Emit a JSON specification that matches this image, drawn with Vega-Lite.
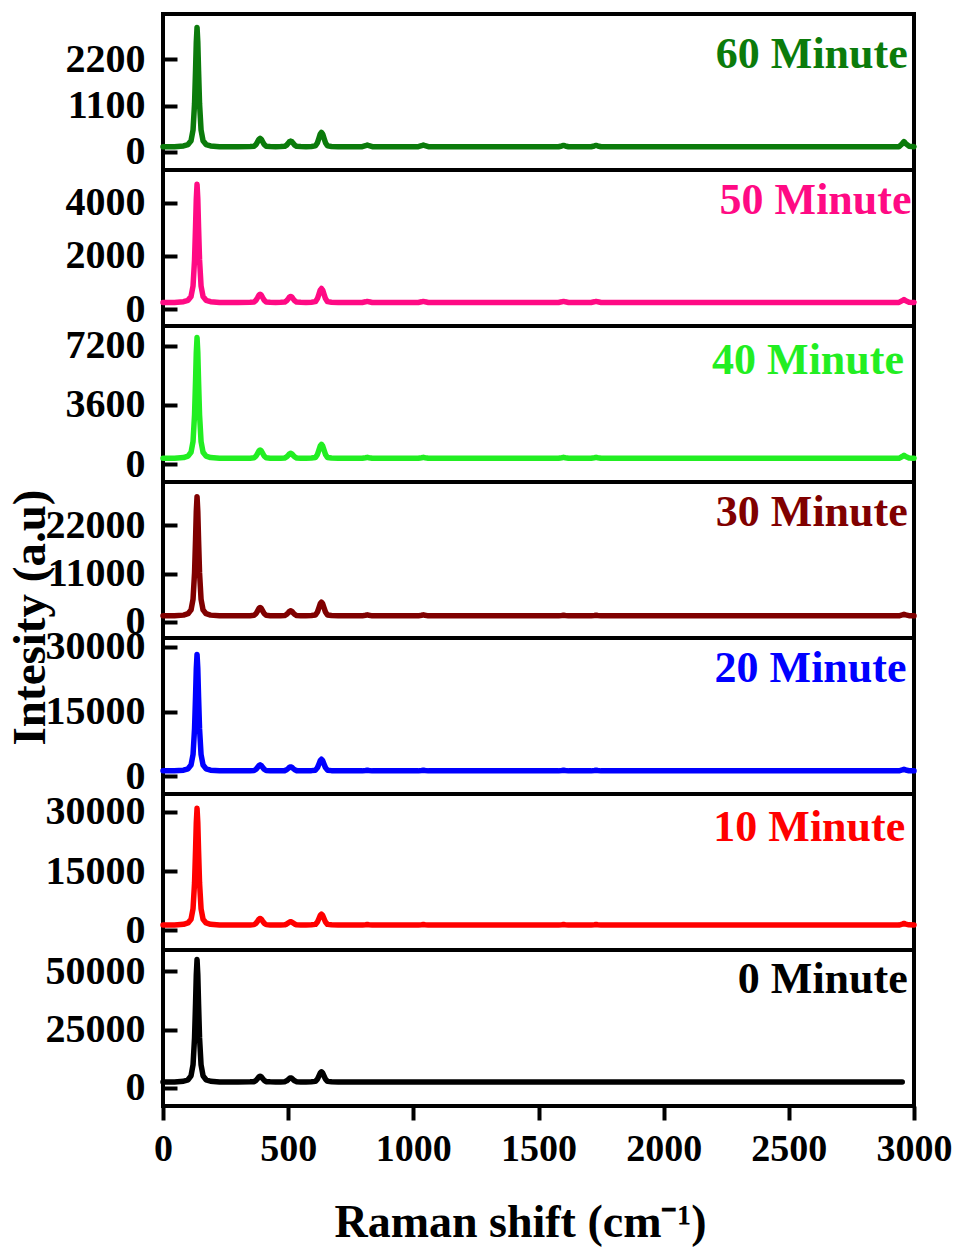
{
  "$schema": "https://vega.github.io/schema/vega-lite/v6.json",
  "background": "white",
  "padding": {"left": 3, "top": 12, "right": 5, "bottom": 5},
  "spacing": 0,
  "bounds": "flush",
  "data": {"values": [
    {"x": 0, "m0": 2480, "m10": 1325, "m20": 1223, "m30": 1374, "m40": 348, "m50": 250, "m60": 125},
    {"x": 20, "m0": 2480, "m10": 1325, "m20": 1223, "m30": 1374, "m40": 348, "m50": 250, "m60": 125},
    {"x": 46, "m0": 2480, "m10": 1325, "m20": 1223, "m30": 1374, "m40": 348, "m50": 250, "m60": 125},
    {"x": 82, "m0": 2795, "m10": 1502, "m20": 1385, "m30": 1537, "m40": 392, "m50": 277, "m60": 142},
    {"x": 100, "m0": 3426, "m10": 1857, "m20": 1710, "m30": 1862, "m40": 481, "m50": 330, "m60": 176},
    {"x": 112, "m0": 5108, "m10": 2803, "m20": 2575, "m30": 2731, "m40": 716, "m50": 472, "m60": 266},
    {"x": 120, "m0": 9837, "m10": 5462, "m20": 5010, "m30": 5173, "m40": 1380, "m50": 872, "m60": 520},
    {"x": 126, "m0": 21398, "m10": 11963, "m20": 10960, "m30": 11143, "m40": 3001, "m50": 1850, "m60": 1141},
    {"x": 130, "m0": 36112, "m10": 20237, "m20": 18533, "m30": 18741, "m40": 5064, "m50": 3094, "m60": 1930},
    {"x": 133, "m0": 48566, "m10": 27240, "m20": 24943, "m30": 25172, "m40": 6811, "m50": 4147, "m60": 2599},
    {"x": 136, "m0": 55030, "m10": 30875, "m20": 28270, "m30": 28510, "m40": 7717, "m50": 4694, "m60": 2946},
    {"x": 139, "m0": 48566, "m10": 27240, "m20": 24943, "m30": 25172, "m40": 6811, "m50": 4147, "m60": 2599},
    {"x": 142, "m0": 36112, "m10": 20237, "m20": 18533, "m30": 18741, "m40": 5064, "m50": 3094, "m60": 1930},
    {"x": 146, "m0": 21398, "m10": 11963, "m20": 10960, "m30": 11143, "m40": 3001, "m50": 1850, "m60": 1141},
    {"x": 152, "m0": 9837, "m10": 5462, "m20": 5010, "m30": 5173, "m40": 1380, "m50": 872, "m60": 520},
    {"x": 160, "m0": 5108, "m10": 2803, "m20": 2575, "m30": 2731, "m40": 716, "m50": 472, "m60": 266},
    {"x": 172, "m0": 3426, "m10": 1857, "m20": 1710, "m30": 1862, "m40": 481, "m50": 330, "m60": 176},
    {"x": 190, "m0": 2795, "m10": 1502, "m20": 1385, "m30": 1537, "m40": 392, "m50": 277, "m60": 142},
    {"x": 226, "m0": 2480, "m10": 1325, "m20": 1223, "m30": 1374, "m40": 348, "m50": 250, "m60": 125},
    {"x": 300, "m0": 2480, "m10": 1325, "m20": 1223, "m30": 1374, "m40": 348, "m50": 250, "m60": 125},
    {"x": 348, "m0": 2529, "m10": 1358, "m20": 1251, "m30": 1412, "m40": 358, "m50": 256, "m60": 129},
    {"x": 364, "m0": 2628, "m10": 1425, "m20": 1306, "m30": 1488, "m40": 378, "m50": 269, "m60": 137},
    {"x": 372, "m0": 3169, "m10": 1793, "m20": 1611, "m30": 1906, "m40": 490, "m50": 337, "m60": 180},
    {"x": 378, "m0": 3956, "m10": 2327, "m20": 2054, "m30": 2514, "m40": 653, "m50": 436, "m60": 243},
    {"x": 383, "m0": 4645, "m10": 2795, "m20": 2442, "m30": 3046, "m40": 795, "m50": 523, "m60": 298},
    {"x": 388, "m0": 4940, "m10": 2995, "m20": 2608, "m30": 3274, "m40": 856, "m50": 560, "m60": 322},
    {"x": 393, "m0": 4645, "m10": 2795, "m20": 2442, "m30": 3046, "m40": 795, "m50": 523, "m60": 298},
    {"x": 398, "m0": 3956, "m10": 2327, "m20": 2054, "m30": 2514, "m40": 653, "m50": 436, "m60": 243},
    {"x": 404, "m0": 3169, "m10": 1793, "m20": 1611, "m30": 1906, "m40": 490, "m50": 337, "m60": 180},
    {"x": 412, "m0": 2628, "m10": 1425, "m20": 1306, "m30": 1488, "m40": 378, "m50": 269, "m60": 137},
    {"x": 428, "m0": 2529, "m10": 1358, "m20": 1251, "m30": 1412, "m40": 358, "m50": 256, "m60": 129},
    {"x": 450, "m0": 2480, "m10": 1325, "m20": 1223, "m30": 1374, "m40": 348, "m50": 250, "m60": 125},
    {"x": 470, "m0": 2515, "m10": 1342, "m20": 1241, "m30": 1397, "m40": 354, "m50": 255, "m60": 128},
    {"x": 486, "m0": 2584, "m10": 1375, "m20": 1278, "m30": 1443, "m40": 366, "m50": 264, "m60": 133},
    {"x": 494, "m0": 2967, "m10": 1557, "m20": 1481, "m30": 1695, "m40": 433, "m50": 313, "m60": 163},
    {"x": 500, "m0": 3524, "m10": 1823, "m20": 1777, "m30": 2061, "m40": 531, "m50": 385, "m60": 205},
    {"x": 505, "m0": 4011, "m10": 2055, "m20": 2035, "m30": 2382, "m40": 616, "m50": 448, "m60": 243},
    {"x": 510, "m0": 4220, "m10": 2155, "m20": 2146, "m30": 2519, "m40": 653, "m50": 475, "m60": 259},
    {"x": 515, "m0": 4011, "m10": 2055, "m20": 2035, "m30": 2382, "m40": 616, "m50": 448, "m60": 243},
    {"x": 520, "m0": 3524, "m10": 1823, "m20": 1777, "m30": 2061, "m40": 531, "m50": 385, "m60": 205},
    {"x": 526, "m0": 2967, "m10": 1557, "m20": 1481, "m30": 1695, "m40": 433, "m50": 313, "m60": 163},
    {"x": 534, "m0": 2584, "m10": 1375, "m20": 1278, "m30": 1443, "m40": 366, "m50": 264, "m60": 133},
    {"x": 550, "m0": 2515, "m10": 1342, "m20": 1241, "m30": 1397, "m40": 354, "m50": 255, "m60": 128},
    {"x": 571, "m0": 2480, "m10": 1325, "m20": 1223, "m30": 1374, "m40": 348, "m50": 250, "m60": 125},
    {"x": 593, "m0": 2567, "m10": 1380, "m20": 1277, "m30": 1437, "m40": 365, "m50": 260, "m60": 132},
    {"x": 609, "m0": 2741, "m10": 1490, "m20": 1384, "m30": 1562, "m40": 399, "m50": 281, "m60": 145},
    {"x": 617, "m0": 3698, "m10": 2095, "m20": 1976, "m30": 2250, "m40": 587, "m50": 397, "m60": 220},
    {"x": 623, "m0": 5090, "m10": 2975, "m20": 2837, "m30": 3252, "m40": 860, "m50": 564, "m60": 328},
    {"x": 628, "m0": 6308, "m10": 3745, "m20": 3590, "m30": 4128, "m40": 1100, "m50": 711, "m60": 423},
    {"x": 633, "m0": 6830, "m10": 4075, "m20": 3913, "m30": 4504, "m40": 1202, "m50": 774, "m60": 464},
    {"x": 638, "m0": 6308, "m10": 3745, "m20": 3590, "m30": 4128, "m40": 1100, "m50": 711, "m60": 423},
    {"x": 643, "m0": 5090, "m10": 2975, "m20": 2837, "m30": 3252, "m40": 860, "m50": 564, "m60": 328},
    {"x": 649, "m0": 3698, "m10": 2095, "m20": 1976, "m30": 2250, "m40": 587, "m50": 397, "m60": 220},
    {"x": 657, "m0": 2741, "m10": 1490, "m20": 1384, "m30": 1562, "m40": 399, "m50": 281, "m60": 145},
    {"x": 673, "m0": 2567, "m10": 1380, "m20": 1277, "m30": 1437, "m40": 365, "m50": 260, "m60": 132},
    {"x": 700, "m0": 2480, "m10": 1325, "m20": 1223, "m30": 1374, "m40": 348, "m50": 250, "m60": 125},
    {"x": 796, "m0": 2480, "m10": 1325, "m20": 1223, "m30": 1374, "m40": 348, "m50": 250, "m60": 125},
    {"x": 809, "m0": 2480, "m10": 1415, "m20": 1313, "m30": 1512, "m40": 384, "m50": 274, "m60": 149},
    {"x": 816, "m0": 2480, "m10": 1475, "m20": 1373, "m30": 1604, "m40": 408, "m50": 290, "m60": 165},
    {"x": 823, "m0": 2480, "m10": 1415, "m20": 1313, "m30": 1512, "m40": 384, "m50": 274, "m60": 149},
    {"x": 836, "m0": 2480, "m10": 1325, "m20": 1223, "m30": 1374, "m40": 348, "m50": 250, "m60": 125},
    {"x": 1020, "m0": 2480, "m10": 1325, "m20": 1223, "m30": 1374, "m40": 348, "m50": 250, "m60": 125},
    {"x": 1033, "m0": 2480, "m10": 1415, "m20": 1313, "m30": 1512, "m40": 384, "m50": 274, "m60": 149},
    {"x": 1040, "m0": 2480, "m10": 1475, "m20": 1373, "m30": 1604, "m40": 408, "m50": 290, "m60": 165},
    {"x": 1047, "m0": 2480, "m10": 1415, "m20": 1313, "m30": 1512, "m40": 384, "m50": 274, "m60": 149},
    {"x": 1060, "m0": 2480, "m10": 1325, "m20": 1223, "m30": 1374, "m40": 348, "m50": 250, "m60": 125},
    {"x": 1200, "m0": 2480, "m10": 1325, "m20": 1223, "m30": 1374, "m40": 348, "m50": 250, "m60": 125},
    {"x": 1400, "m0": 2480, "m10": 1325, "m20": 1223, "m30": 1374, "m40": 348, "m50": 250, "m60": 125},
    {"x": 1580, "m0": 2480, "m10": 1325, "m20": 1223, "m30": 1374, "m40": 348, "m50": 250, "m60": 125},
    {"x": 1593, "m0": 2480, "m10": 1415, "m20": 1313, "m30": 1464, "m40": 384, "m50": 274, "m60": 143},
    {"x": 1600, "m0": 2480, "m10": 1475, "m20": 1373, "m30": 1524, "m40": 408, "m50": 290, "m60": 155},
    {"x": 1607, "m0": 2480, "m10": 1415, "m20": 1313, "m30": 1464, "m40": 384, "m50": 274, "m60": 143},
    {"x": 1620, "m0": 2480, "m10": 1325, "m20": 1223, "m30": 1374, "m40": 348, "m50": 250, "m60": 125},
    {"x": 1710, "m0": 2480, "m10": 1325, "m20": 1223, "m30": 1374, "m40": 348, "m50": 250, "m60": 125},
    {"x": 1723, "m0": 2480, "m10": 1415, "m20": 1313, "m30": 1464, "m40": 384, "m50": 274, "m60": 143},
    {"x": 1730, "m0": 2480, "m10": 1475, "m20": 1373, "m30": 1524, "m40": 408, "m50": 290, "m60": 155},
    {"x": 1737, "m0": 2480, "m10": 1415, "m20": 1313, "m30": 1464, "m40": 384, "m50": 274, "m60": 143},
    {"x": 1750, "m0": 2480, "m10": 1325, "m20": 1223, "m30": 1374, "m40": 348, "m50": 250, "m60": 125},
    {"x": 1900, "m0": 2480, "m10": 1325, "m20": 1223, "m30": 1374, "m40": 348, "m50": 250, "m60": 125},
    {"x": 2100, "m0": 2480, "m10": 1325, "m20": 1223, "m30": 1374, "m40": 348, "m50": 250, "m60": 125},
    {"x": 2300, "m0": 2480, "m10": 1325, "m20": 1223, "m30": 1374, "m40": 348, "m50": 250, "m60": 125},
    {"x": 2500, "m0": 2480, "m10": 1325, "m20": 1223, "m30": 1374, "m40": 348, "m50": 250, "m60": 125},
    {"x": 2700, "m0": 2480, "m10": 1325, "m20": 1223, "m30": 1374, "m40": 348, "m50": 250, "m60": 125},
    {"x": 2850, "m0": 2480, "m10": 1325, "m20": 1223, "m30": 1374, "m40": 348, "m50": 250, "m60": 125},
    {"x": 2940, "m0": 2480, "m10": 1325, "m20": 1223, "m30": 1374, "m40": 348, "m50": 250, "m60": 125},
    {"x": 2953, "m0": 2480, "m10": 1565, "m20": 1433, "m30": 1584, "m40": 456, "m50": 316, "m60": 197},
    {"x": 2960, "m0": null, "m10": 1725, "m20": 1573, "m30": 1724, "m40": 528, "m50": 360, "m60": 245},
    {"x": 2967, "m0": null, "m10": 1565, "m20": 1433, "m30": 1584, "m40": 456, "m50": 316, "m60": 197},
    {"x": 2980, "m0": null, "m10": 1365, "m20": 1258, "m30": 1409, "m40": 366, "m50": 261, "m60": 137},
    {"x": 3000, "m0": null, "m10": 1325, "m20": 1223, "m30": 1374, "m40": 348, "m50": 250, "m60": 125}
  ]},
  "vconcat": [
    {
      "width": 751, "height": 156,
      "layer": [
        {"mark": {"type": "line", "color": "#0b7b0b", "strokeWidth": 5.5, "strokeJoin": "round", "strokeCap": "round"},
         "encoding": {
           "x": {"field": "x", "type": "quantitative", "scale": {"domain": [0, 3000], "nice": false}, "axis": null},
           "y": {"field": "m60", "type": "quantitative", "scale": {"domain": [-426, 3265], "nice": false, "zero": false}, "axis": {"values": [0, 1100, 2200], "format": "d", "title": null}}
         }},
        {"data": {"values": [{"label": "60 Minute"}]},
         "mark": {"type": "text", "align": "right", "baseline": "middle", "font": "Liberation Serif", "fontWeight": "bold", "fontSize": 44, "color": "#0b7b0b"},
         "encoding": {
           "x": {"datum": 2975, "type": "quantitative", "axis": null},
           "y": {"datum": 2295, "type": "quantitative", "axis": {"values": [0, 1100, 2200], "format": "d", "title": null}},
           "text": {"field": "label"}
         }}
      ]
    },
    {
      "width": 751, "height": 156,
      "layer": [
        {"mark": {"type": "line", "color": "#ff0a84", "strokeWidth": 5.5, "strokeJoin": "round", "strokeCap": "round"},
         "encoding": {
           "x": {"field": "x", "type": "quantitative", "scale": {"domain": [0, 3000], "nice": false}, "axis": null},
           "y": {"field": "m50", "type": "quantitative", "scale": {"domain": [-636, 5234], "nice": false, "zero": false}, "axis": {"values": [0, 2000, 4000], "format": "d", "title": null}}
         }},
        {"data": {"values": [{"label": "50 Minute"}]},
         "mark": {"type": "text", "align": "right", "baseline": "middle", "font": "Liberation Serif", "fontWeight": "bold", "fontSize": 44, "color": "#ff0a84"},
         "encoding": {
           "x": {"datum": 2990, "type": "quantitative", "axis": null},
           "y": {"datum": 4077, "type": "quantitative", "axis": {"values": [0, 2000, 4000], "format": "d", "title": null}},
           "text": {"field": "label"}
         }}
      ]
    },
    {
      "width": 751, "height": 156,
      "layer": [
        {"mark": {"type": "line", "color": "#22ee22", "strokeWidth": 5.5, "strokeJoin": "round", "strokeCap": "round"},
         "encoding": {
           "x": {"field": "x", "type": "quantitative", "scale": {"domain": [0, 3000], "nice": false}, "axis": null},
           "y": {"field": "m40", "type": "quantitative", "scale": {"domain": [-1098, 8420], "nice": false, "zero": false}, "axis": {"values": [0, 3600, 7200], "format": "d", "title": null}}
         }},
        {"data": {"values": [{"label": "40 Minute"}]},
         "mark": {"type": "text", "align": "right", "baseline": "middle", "font": "Liberation Serif", "fontWeight": "bold", "fontSize": 44, "color": "#22ee22"},
         "encoding": {
           "x": {"datum": 2960, "type": "quantitative", "axis": null},
           "y": {"datum": 6283, "type": "quantitative", "axis": {"values": [0, 3600, 7200], "format": "d", "title": null}},
           "text": {"field": "label"}
         }}
      ]
    },
    {
      "width": 751, "height": 156,
      "layer": [
        {"mark": {"type": "line", "color": "#800000", "strokeWidth": 5.5, "strokeJoin": "round", "strokeCap": "round"},
         "encoding": {
           "x": {"field": "x", "type": "quantitative", "scale": {"domain": [0, 3000], "nice": false}, "axis": null},
           "y": {"field": "m30", "type": "quantitative", "scale": {"domain": [-3670, 31850], "nice": false, "zero": false}, "axis": {"values": [0, 11000, 22000], "format": "d", "title": "Intesity (a.u)", "titleFontSize": 47, "titleX": -119, "titleY": 135, "titleAngle": 270, "titleAlign": "center", "titleBaseline": "alphabetic"}}
         }},
        {"data": {"values": [{"label": "30 Minute"}]},
         "mark": {"type": "text", "align": "right", "baseline": "middle", "font": "Liberation Serif", "fontWeight": "bold", "fontSize": 44, "color": "#800000"},
         "encoding": {
           "x": {"datum": 2975, "type": "quantitative", "axis": null},
           "y": {"datum": 24730, "type": "quantitative", "axis": {"values": [0, 11000, 22000], "format": "d", "title": "Intesity (a.u)", "titleFontSize": 47, "titleX": -119, "titleY": 135, "titleAngle": 270, "titleAlign": "center", "titleBaseline": "alphabetic"}},
           "text": {"field": "label"}
         }}
      ]
    },
    {
      "width": 751, "height": 156,
      "layer": [
        {"mark": {"type": "line", "color": "#0000ff", "strokeWidth": 5.5, "strokeJoin": "round", "strokeCap": "round"},
         "encoding": {
           "x": {"field": "x", "type": "quantitative", "scale": {"domain": [0, 3000], "nice": false}, "axis": null},
           "y": {"field": "m20", "type": "quantitative", "scale": {"domain": [-4150, 32080], "nice": false, "zero": false}, "axis": {"values": [0, 15000, 30000], "format": "d", "title": null}}
         }},
        {"data": {"values": [{"label": "20 Minute"}]},
         "mark": {"type": "text", "align": "right", "baseline": "middle", "font": "Liberation Serif", "fontWeight": "bold", "fontSize": 44, "color": "#0000ff"},
         "encoding": {
           "x": {"datum": 2970, "type": "quantitative", "axis": null},
           "y": {"datum": 24926, "type": "quantitative", "axis": {"values": [0, 15000, 30000], "format": "d", "title": null}},
           "text": {"field": "label"}
         }}
      ]
    },
    {
      "width": 751, "height": 156,
      "layer": [
        {"mark": {"type": "line", "color": "#ff0000", "strokeWidth": 5.5, "strokeJoin": "round", "strokeCap": "round"},
         "encoding": {
           "x": {"field": "x", "type": "quantitative", "scale": {"domain": [0, 3000], "nice": false}, "axis": null},
           "y": {"field": "m10", "type": "quantitative", "scale": {"domain": [-5000, 34500], "nice": false, "zero": false}, "axis": {"values": [0, 15000, 30000], "format": "d", "title": null}}
         }},
        {"data": {"values": [{"label": "10 Minute"}]},
         "mark": {"type": "text", "align": "right", "baseline": "middle", "font": "Liberation Serif", "fontWeight": "bold", "fontSize": 44, "color": "#ff0000"},
         "encoding": {
           "x": {"datum": 2965, "type": "quantitative", "axis": null},
           "y": {"datum": 26000, "type": "quantitative", "axis": {"values": [0, 15000, 30000], "format": "d", "title": null}},
           "text": {"field": "label"}
         }}
      ]
    },
    {
      "width": 751, "height": 156,
      "layer": [
        {"mark": {"type": "line", "color": "#000000", "strokeWidth": 5.5, "strokeJoin": "round", "strokeCap": "round"},
         "encoding": {
           "x": {"field": "x", "type": "quantitative", "scale": {"domain": [0, 3000], "nice": false},
                 "axis": {"values": [0, 500, 1000, 1500, 2000, 2500, 3000], "format": "d", "tickSize": 14, "labelPadding": 10, "labelFlush": false, "title": "Raman shift (cm⁻¹)", "titleFontSize": 46, "titlePadding": 32, "titleX": 357, "titleAlign": "center"}},
           "y": {"field": "m0", "type": "quantitative", "scale": {"domain": [-7830, 59130], "nice": false, "zero": false}, "axis": {"values": [0, 25000, 50000], "format": "d", "title": null}}
         }},
        {"data": {"values": [{"label": "0 Minute"}]},
         "mark": {"type": "text", "align": "right", "baseline": "middle", "font": "Liberation Serif", "fontWeight": "bold", "fontSize": 44, "color": "#000000"},
         "encoding": {
           "x": {"datum": 2975, "type": "quantitative", "axis": {"values": [0, 500, 1000, 1500, 2000, 2500, 3000], "format": "d", "tickSize": 14, "labelPadding": 10, "labelFlush": false, "title": "Raman shift (cm⁻¹)", "titleFontSize": 46, "titlePadding": 32, "titleX": 357, "titleAlign": "center"}},
           "y": {"datum": 46110, "type": "quantitative", "axis": {"values": [0, 25000, 50000], "format": "d", "title": null}},
           "text": {"field": "label"}
         }}
      ]
    }
  ],
  "config": {
    "numberFormat": "d",
    "view": {"stroke": "black", "strokeWidth": 4},
    "axis": {
      "labelFont": "Liberation Serif", "labelFontWeight": "bold", "labelFontSize": 38, "labelColor": "black",
      "titleFont": "Liberation Serif", "titleFontWeight": "bold", "titleFontSize": 44, "titleColor": "black",
      "domain": false, "grid": false, "tickColor": "black", "tickWidth": 4
    },
    "axisY": {"tickSize": -14, "labelPadding": 32, "labelFontSize": 40}
  }
}
